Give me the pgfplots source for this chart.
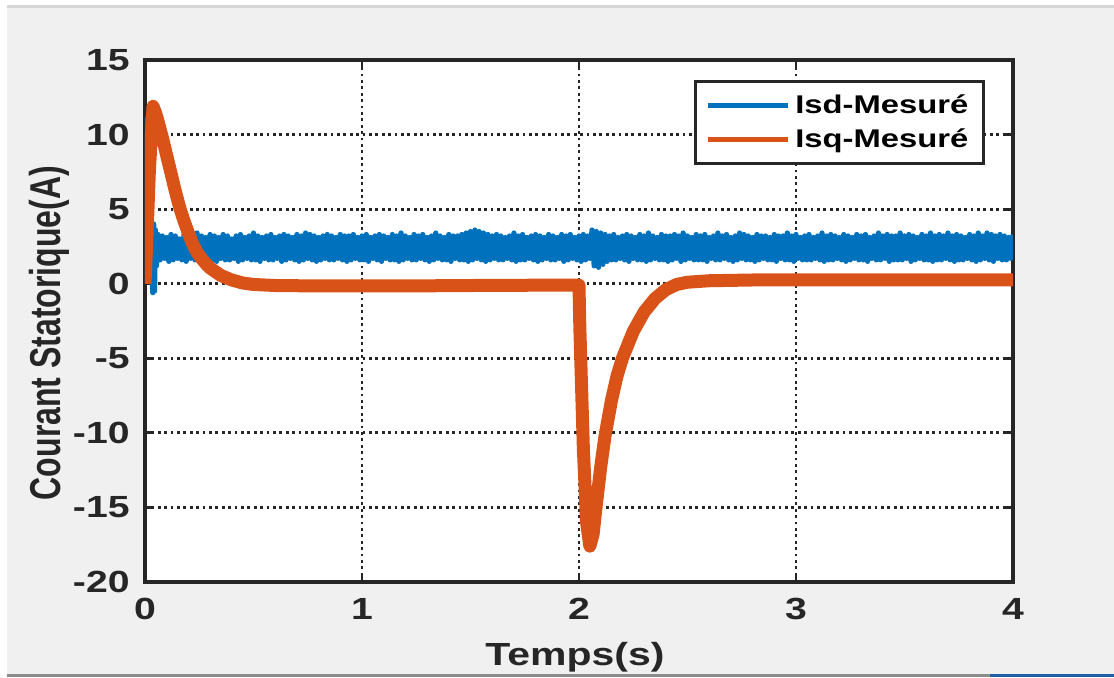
\documentclass[border=0pt]{standalone}
\usepackage{fontspec}
\setmainfont{Liberation Sans}[FakeStretch=1.28]
\newfontfamily\plainsans{Liberation Sans}
\usepackage{pgfplots}
\pgfplotsset{compat=1.18}
\usepackage{graphicx}

\definecolor{mblue}{HTML}{0072BD}
\definecolor{morange}{HTML}{D95319}
\definecolor{axgray}{HTML}{262626}
\definecolor{figbg}{HTML}{F0F0F0}
\definecolor{topline}{HTML}{D6D6D6}
\definecolor{botline}{HTML}{8C8C8C}
\definecolor{barblue}{HTML}{1F5FA3}

\begin{document}
\begin{tikzpicture}
\useasboundingbox (0,0) rectangle (557pt,338.5pt);
% window frame around the figure
\fill[white] (0,0) rectangle (557pt,338.5pt);
\fill[figbg] (3.5pt,1.5pt) rectangle (557pt,334.5pt);
\fill[topline] (3.5pt,334.5pt) rectangle (557pt,336pt);
\fill[botline] (3.5pt,0pt) rectangle (495pt,1.6pt);
\fill[barblue] (495pt,0pt) rectangle (557pt,1.6pt);

\begin{axis}[
  at={(72.5pt,47.5pt)}, anchor=south west,
  width=434pt, height=261pt, scale only axis,
  xmin=0, xmax=4, ymin=-20, ymax=15,
  xtick={0,1,2,3,4}, xticklabels={0,1,2,3,4},
  ytick={-20,-15,-10,-5,0,5,10,15},
  yticklabels={-20,-15,-10,-5,0,5,10,15},
  axis background/.style={fill=white},
  axis line style={axgray, line width=1.8pt},
  tick align=inside, major tick length=4.5pt,
  every tick/.style={axgray, line width=1.4pt},
  grid=major,
  major grid style={axgray, line width=1.4pt, dash pattern=on 1.4pt off 1.8pt},
  tick label style={font=\bfseries\fontsize{15.3}{18}\selectfont, text=axgray, inner sep=0pt},
  xticklabel style={anchor=north, yshift=-8pt},
  yticklabel style={anchor=east, xshift=-7.5pt},
  xlabel={Temps(s)},
  xlabel style={at={([yshift=-41.5pt,xshift=-2pt]axis description cs:0.5,0)}, anchor=base,
    font=\bfseries\fontsize{16}{19}\selectfont, text=axgray, inner sep=0pt},
  ylabel={\scalebox{1}[1.35]{Courant Statorique(A)}},
  ylabel style={at={([xshift=-42pt]axis description cs:0,0.477)}, anchor=base,
    font=\plainsans\bfseries\fontsize{16}{19}\selectfont, text=axgray, inner sep=0pt},
  legend style={at={(0.9677,0.9617)}, anchor=north east, draw=axgray, line width=1.6pt,
    fill=white, font=\bfseries\fontsize{12.8}{15}\selectfont, text=black,
    inner xsep=5pt, inner ysep=5pt, row sep=3pt,
    nodes={inner xsep=2.5pt, inner ysep=1.5pt}},
  legend cell align=left,
  legend image code/.code={\draw[#1, line width=2.5pt] (0pt,0pt) -- (40pt,0pt);},
]

% d-axis stator current (measured, noisy)
\addplot[mblue, line width=2.6pt, line join=round] coordinates {
(0,0.1)(0.012,11.1)(0.028,1.5)(0.036,-0.6)(0.04,4.0)(0.044,-0.5)(0.048,3.6)(0.053,1.2)
(0.06,3.3)(0.07,1.6)(0.08,3.2)(0.09,1.7)(0.10,3.1)(0.11,1.5)(0.12,3.3)(0.13,1.6)(0.14,3.2)(0.15,1.7)
(0.16,3.0)(0.17,1.6)(0.18,3.3)(0.19,1.5)(0.20,3.2)(0.21,1.7)(0.22,3.1)(0.23,1.6)(0.24,3.4)(0.25,1.5)
(0.26,3.2)(0.27,1.6)(0.28,3.1)(0.29,1.7)(0.30,3.3)(0.31,1.6)(0.32,3.2)(0.33,1.5)(0.34,3.1)(0.35,1.7)
(0.36,3.3)(0.37,1.6)(0.38,3.2)(0.39,1.6)(0.40,3.0)(0.41,1.7)(0.42,3.2)(0.43,1.5)(0.44,3.3)(0.45,1.6)
(0.46,3.1)(0.47,1.7)(0.48,3.2)(0.49,1.6)(0.50,3.4)(0.51,1.6)(0.52,3.2)(0.53,1.5)(0.54,3.1)(0.55,1.7)
(0.56,3.2)(0.57,1.6)(0.58,3.3)(0.59,1.6)(0.60,3.1)(0.61,1.7)(0.62,3.2)(0.63,1.5)(0.64,3.3)(0.65,1.6)
(0.66,3.2)(0.67,1.7)(0.68,3.1)(0.69,1.6)(0.70,3.3)(0.71,1.5)(0.72,3.2)(0.73,1.6)(0.74,3.4)(0.75,1.7)
(0.76,3.3)(0.77,1.6)(0.78,3.2)(0.79,1.5)(0.80,3.1)(0.81,1.6)(0.82,3.2)(0.83,1.7)(0.84,3.3)(0.85,1.6)
(0.86,3.2)(0.87,1.6)(0.88,3.1)(0.89,1.7)(0.90,3.3)(0.91,1.6)(0.92,3.2)(0.93,1.5)(0.94,3.2)(0.95,1.6)
(0.96,3.3)(0.97,1.7)(0.98,3.1)(0.99,1.6)(1.00,3.2)(1.01,1.6)(1.02,3.3)(1.03,1.5)(1.04,3.1)(1.05,1.7)
(1.06,3.2)(1.07,1.6)(1.08,3.3)(1.09,1.5)(1.10,3.2)(1.11,1.7)(1.12,3.1)(1.13,1.6)(1.14,3.3)(1.15,1.6)
(1.16,3.2)(1.17,1.5)(1.18,3.4)(1.19,1.6)(1.20,3.2)(1.21,1.7)(1.22,3.1)(1.23,1.6)(1.24,3.3)(1.25,1.6)
(1.26,3.2)(1.27,1.7)(1.28,3.3)(1.29,1.6)(1.30,3.1)(1.31,1.5)(1.32,3.2)(1.33,1.6)(1.34,3.4)(1.35,1.7)
(1.36,3.2)(1.37,1.6)(1.38,3.1)(1.39,1.6)(1.40,3.3)(1.41,1.5)(1.42,3.2)(1.43,1.7)(1.44,3.2)(1.45,1.6)
(1.46,3.3)(1.47,1.6)(1.48,3.4)(1.49,1.5)(1.50,3.5)(1.51,1.6)(1.52,3.6)(1.53,1.7)(1.54,3.5)(1.55,1.6)
(1.56,3.4)(1.57,1.5)(1.58,3.3)(1.59,1.6)(1.60,3.2)(1.61,1.7)(1.62,3.3)(1.63,1.6)(1.64,3.2)(1.65,1.6)
(1.66,3.1)(1.67,1.7)(1.68,3.2)(1.69,1.6)(1.70,3.4)(1.71,1.5)(1.72,3.2)(1.73,1.6)(1.74,3.3)(1.75,1.6)
(1.76,3.1)(1.77,1.7)(1.78,3.2)(1.79,1.6)(1.80,3.3)(1.81,1.5)(1.82,3.2)(1.83,1.6)(1.84,3.1)(1.85,1.7)
(1.86,3.3)(1.87,1.6)(1.88,3.2)(1.89,1.6)(1.90,3.1)(1.91,1.7)(1.92,3.3)(1.93,1.5)(1.94,3.2)(1.95,1.6)
(1.96,3.3)(1.97,1.7)(1.98,3.1)(1.99,1.6)(2.00,3.2)(2.01,1.5)(2.02,3.3)(2.03,1.6)(2.04,3.2)(2.05,1.7)
(2.06,3.6)(2.07,1.2)(2.08,3.5)(2.09,1.1)(2.10,3.4)(2.11,1.3)(2.12,3.3)(2.13,1.5)(2.14,3.2)(2.15,1.6)
(2.16,3.3)(2.17,1.6)(2.18,3.1)(2.19,1.7)(2.20,3.2)(2.21,1.6)(2.22,3.3)(2.23,1.5)(2.24,3.2)(2.25,1.7)
(2.26,3.1)(2.27,1.6)(2.28,3.3)(2.29,1.6)(2.30,3.2)(2.31,1.5)(2.32,3.4)(2.33,1.6)(2.34,3.2)(2.35,1.7)
(2.36,3.1)(2.37,1.6)(2.38,3.3)(2.39,1.6)(2.40,3.2)(2.41,1.5)(2.42,3.2)(2.43,1.6)(2.44,3.3)(2.45,1.7)
(2.46,3.2)(2.47,1.5)(2.48,3.4)(2.49,1.6)(2.50,3.2)(2.51,1.7)(2.52,3.1)(2.53,1.6)(2.54,3.3)(2.55,1.6)
(2.56,3.2)(2.57,1.6)(2.58,3.3)(2.59,1.5)(2.60,3.1)(2.61,1.7)(2.62,3.2)(2.63,1.6)(2.64,3.4)(2.65,1.6)
(2.66,3.2)(2.67,1.7)(2.68,3.3)(2.69,1.6)(2.70,3.1)(2.71,1.5)(2.72,3.2)(2.73,1.6)(2.74,3.4)(2.75,1.7)
(2.76,3.3)(2.77,1.6)(2.78,3.2)(2.79,1.6)(2.80,3.1)(2.81,1.5)(2.82,3.3)(2.83,1.6)(2.84,3.2)(2.85,1.7)
(2.86,3.2)(2.87,1.6)(2.88,3.1)(2.89,1.6)(2.90,3.3)(2.91,1.5)(2.92,3.2)(2.93,1.7)(2.94,3.2)(2.95,1.6)
(2.96,3.4)(2.97,1.6)(2.98,3.2)(2.99,1.5)(3.00,3.3)(3.01,1.7)(3.02,3.1)(3.03,1.6)(3.04,3.2)(3.05,1.6)
(3.06,3.3)(3.07,1.6)(3.08,3.1)(3.09,1.7)(3.10,3.2)(3.11,1.6)(3.12,3.4)(3.13,1.5)(3.14,3.2)(3.15,1.6)
(3.16,3.3)(3.17,1.6)(3.18,3.2)(3.19,1.7)(3.20,3.1)(3.21,1.6)(3.22,3.3)(3.23,1.5)(3.24,3.2)(3.25,1.6)
(3.26,3.1)(3.27,1.7)(3.28,3.3)(3.29,1.6)(3.30,3.2)(3.31,1.6)(3.32,3.3)(3.33,1.5)(3.34,3.1)(3.35,1.7)
(3.36,3.2)(3.37,1.6)(3.38,3.4)(3.39,1.6)(3.40,3.2)(3.41,1.7)(3.42,3.3)(3.43,1.5)(3.44,3.2)(3.45,1.6)
(3.46,3.2)(3.47,1.6)(3.48,3.4)(3.49,1.6)(3.50,3.2)(3.51,1.7)(3.52,3.3)(3.53,1.5)(3.54,3.2)(3.55,1.6)
(3.56,3.1)(3.57,1.7)(3.58,3.3)(3.59,1.6)(3.60,3.2)(3.61,1.6)(3.62,3.4)(3.63,1.5)(3.64,3.2)(3.65,1.6)
(3.66,3.3)(3.67,1.6)(3.68,3.2)(3.69,1.7)(3.70,3.4)(3.71,1.6)(3.72,3.2)(3.73,1.5)(3.74,3.3)(3.75,1.6)
(3.76,3.2)(3.77,1.6)(3.78,3.1)(3.79,1.7)(3.80,3.3)(3.81,1.6)(3.82,3.2)(3.83,1.5)(3.84,3.4)(3.85,1.6)
(3.86,3.2)(3.87,1.7)(3.88,3.4)(3.89,1.6)(3.90,3.3)(3.91,1.5)(3.92,3.2)(3.93,1.7)(3.94,3.3)(3.95,1.6)
(3.96,3.2)(3.97,1.6)(3.98,3.1)(3.99,1.7)(4.00,3.3)
};
\addlegendentry{Isd-Mesuré}

% q-axis stator current
\addplot[morange, line width=6.5pt, line join=round] coordinates {
(0,0)(0.01,3.5)(0.02,7.5)(0.037,11.9)(0.05,11.4)(0.06,10.9)(0.08,9.8)(0.10,8.6)
(0.12,7.4)(0.14,6.2)(0.16,5.1)(0.18,4.2)(0.20,3.4)(0.22,2.65)(0.24,2.1)(0.26,1.7)
(0.28,1.35)(0.30,1.05)(0.35,0.55)(0.40,0.25)(0.45,0.05)(0.50,-0.05)(0.60,-0.12)
(0.80,-0.15)(1.00,-0.15)(1.20,-0.15)(1.50,-0.12)(1.80,-0.1)(2.00,-0.1)
(2.004,-3)(2.02,-11)(2.035,-16)(2.05,-17.6)(2.065,-16.8)(2.08,-14.8)(2.10,-12.3)
(2.12,-10.2)(2.15,-7.8)(2.175,-6.2)(2.20,-5.0)(2.25,-3.2)(2.30,-1.9)(2.35,-1.0)
(2.40,-0.4)(2.45,-0.05)(2.50,0.1)(2.60,0.2)(2.80,0.25)(3.00,0.25)(4.00,0.25)
};
\addlegendentry{Isq-Mesuré}

\end{axis}
\end{tikzpicture}
\end{document}
